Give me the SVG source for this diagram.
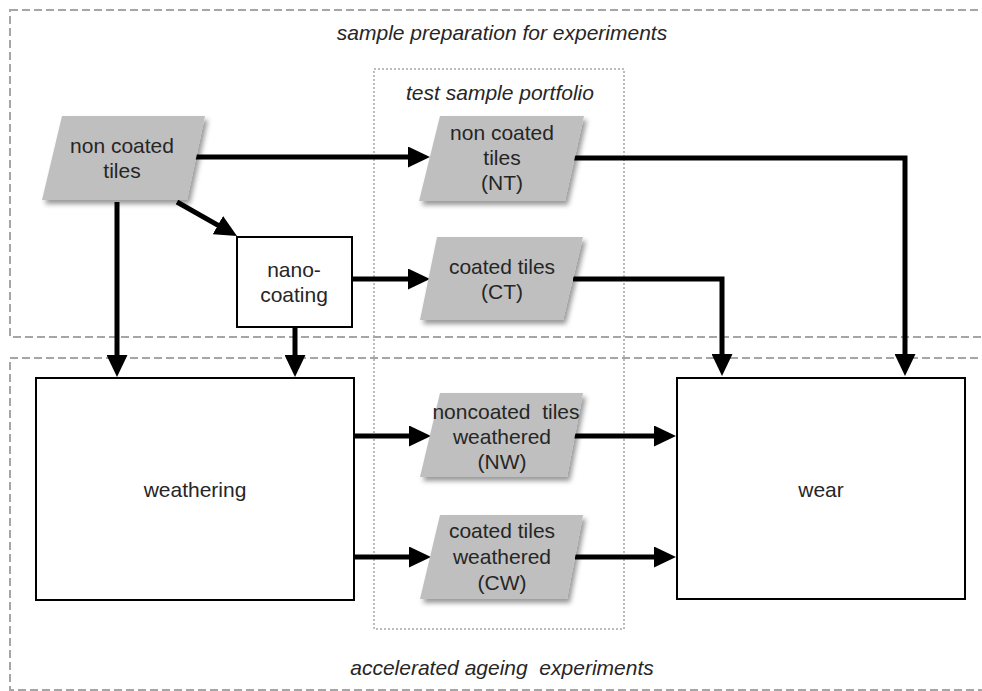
<svg xmlns="http://www.w3.org/2000/svg" width="982" height="691" viewBox="0 0 982 691">
<style>
.frame{fill:none;stroke:#a6a6a6;stroke-width:2;stroke-dasharray:8 4}
.dots{fill:none;stroke:#a6a6a6;stroke-width:1.5;stroke-dasharray:2 2}
.para{fill:#bfbfbf;filter:url(#shadow)}
.box{fill:#fff;stroke:#000;stroke-width:2}
.t{font-family:"Liberation Sans",Arial,sans-serif;font-size:21px;fill:#262626;text-anchor:middle;white-space:pre}
.i{font-style:italic}
.c{fill:none;stroke:#000;stroke-width:5;stroke-linejoin:miter;marker-end:url(#ah)}
</style>
<defs>
<filter id="shadow" x="-20%" y="-20%" width="150%" height="150%">
<feDropShadow dx="3" dy="4" stdDeviation="2.5" flood-color="#000" flood-opacity="0.4"/>
</filter>
<marker id="ah" markerUnits="userSpaceOnUse" markerWidth="22" markerHeight="21" refX="12" refY="10.5" orient="auto">
<path d="M0,0 L22,10.5 L0,21 z" fill="#000"/>
</marker>
</defs>
<g id="frames">
<rect class="frame" x="10" y="10" width="1000" height="327"/>
<rect class="frame" x="10" y="358" width="1000" height="332"/>
<rect class="dots" x="374" y="69" width="250" height="560"/>
<text class="t i" x="502" y="40">sample preparation for experiments</text>
<text class="t i" x="500" y="100">test sample portfolio</text>
<text class="t i" x="502" y="675">accelerated ageing  experiments</text>
</g>
<g id="connectors">
<path class="c" d="M195,157 H420"/>
<path class="c" d="M117,202 V367"/>
<path class="c" d="M177,202 L228.3,231.1"/>
<path class="c" d="M352,279 H420"/>
<path class="c" d="M295,327 V367"/>
<path class="c" d="M573,158 H905 V366"/>
<path class="c" d="M573,279 H722 V366"/>
<path class="c" d="M354,436 H421"/>
<path class="c" d="M354,557 H421"/>
<path class="c" d="M573,436 H666"/>
<path class="c" d="M575,557 H666"/>
</g>
<g id="node-noncoated">
<polygon class="para" points="62,116 205,116 187,200 42,200"/>
<text class="t" x="122" y="153">non coated</text>
<text class="t" x="122" y="178">tiles</text>
</g>
<g id="node-nanocoating">
<rect class="box" x="237" y="237" width="115" height="90"/>
<text class="t" x="294" y="277">nano-</text>
<text class="t" x="294" y="302">coating</text>
</g>
<g id="node-NT">
<polygon class="para" points="440,116 584,116 565,201 419,201"/>
<text class="t" x="502" y="140">non coated</text>
<text class="t" x="502" y="165">tiles</text>
<text class="t" x="502" y="190">(NT)</text>
</g>
<g id="node-CT">
<polygon class="para" points="437,237 583,237 563,320 420,320"/>
<text class="t" x="502" y="274">coated tiles</text>
<text class="t" x="502" y="299">(CT)</text>
</g>
<g id="node-weathering">
<rect class="box" x="36" y="378" width="318" height="222"/>
<text class="t" x="195" y="497">weathering</text>
</g>
<g id="node-NW">
<polygon class="para" points="440,393 583,393 567,477 420,477"/>
<text class="t" x="506" y="419">noncoated  tiles</text>
<text class="t" x="502" y="444">weathered</text>
<text class="t" x="502" y="469">(NW)</text>
</g>
<g id="node-CW">
<polygon class="para" points="440,515 583,515 567,599 420,599"/>
<text class="t" x="502" y="538">coated tiles</text>
<text class="t" x="502" y="564">weathered</text>
<text class="t" x="502" y="590">(CW)</text>
</g>
<g id="node-wear">
<rect class="box" x="677" y="378" width="288" height="221"/>
<text class="t" x="821" y="497">wear</text>
</g>
</svg>
